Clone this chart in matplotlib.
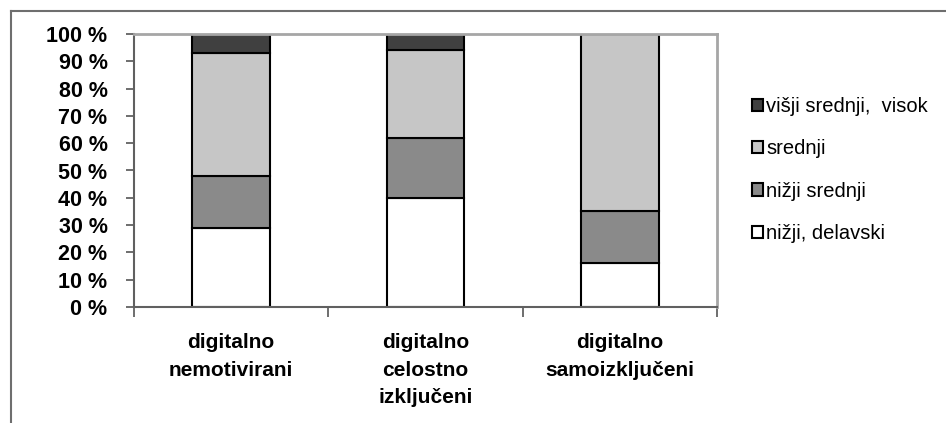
import numpy as np
import matplotlib
matplotlib.use("Agg")
import matplotlib.pyplot as plt
from matplotlib.lines import Line2D

# -----------------------------
# data (shares in %)
# -----------------------------
categories = ["digitalno\nnemotivirani", "digitalno\ncelostno\nizključeni", "digitalno\nsamoizključeni"]
series_names = ["nižji, delavski", "nižji srednji", "srednji", "višji srednji,  visok"]
nizji_delavski = [29, 40, 16]
nizji_srednji = [19, 22, 19]
srednji = [45, 32, 65]
visji_srednji = [7, 6, 0]
y_ticks = [0, 10, 20, 30, 40, 50, 60, 70, 80, 90, 100]

colors = ["#ffffff", "#8a8a8a", "#c6c6c6", "#404040"]

plt.rcParams["font.family"] = ["Liberation Sans", "DejaVu Sans"]

fig = plt.figure(figsize=(9.46, 4.23), dpi=100)
ax = fig.add_axes([134 / 946, 1 - 307 / 423, 583 / 946, 273 / 423])

x = np.arange(len(categories))
bottom = np.zeros(len(categories))
for name, vals, col in zip(series_names, [nizji_delavski, nizji_srednji, srednji, visji_srednji], colors):
    vals = np.array(vals, dtype=float)
    ax.bar(x, vals, width=0.4, bottom=bottom, color=col, edgecolor="black",
           linewidth=1.5, label=name)
    bottom += vals

ax.set_xlim(-0.5, 2.5)
ax.set_ylim(0, 100)
ax.set_yticks(y_ticks)
ax.set_yticklabels([f"{v} %" for v in y_ticks], fontsize=15.5, fontweight="bold")
ax.tick_params(axis="y", direction="out", length=6, width=1.2, color="#555555", pad=13)

ax.set_xticks(x)
ax.set_xticklabels(categories, fontsize=15, fontweight="bold", linespacing=1.55)
ax.tick_params(axis="x", which="major", length=0, pad=19)
ax.set_xticks([-0.5, 0.5, 1.5, 2.5], minor=True)
ax.tick_params(axis="x", which="minor", direction="out", length=7, width=1.2, color="#555555")

for side in ["left", "bottom"]:
    ax.spines[side].set_color("#606060")
    ax.spines[side].set_linewidth(1.5)
for side in ["top", "right"]:
    ax.spines[side].set_color("#a6a6a6")
    ax.spines[side].set_linewidth(2)

# legend, top entry first
h, l = ax.get_legend_handles_labels()
leg = fig.legend(h[::-1], l[::-1], loc="center left",
                 bbox_to_anchor=(752 / 946, 1 - 170 / 423),
                 frameon=False, fontsize=14.5, handlelength=0.55, handleheight=0.55,
                 handletextpad=0.15, labelspacing=1.15, borderpad=0, borderaxespad=0)
for p in leg.get_patches():
    p.set_linewidth(1.5)

# outer chart frame (top and left edges)
fig.add_artist(Line2D([11 / 946, 1.0], [1 - 11 / 423, 1 - 11 / 423], color="#6e6e6e", linewidth=1.5))
fig.add_artist(Line2D([11 / 946, 11 / 946], [0.0, 1 - 11 / 423], color="#6e6e6e", linewidth=1.5))

fig.savefig("out.png", dpi=100)
